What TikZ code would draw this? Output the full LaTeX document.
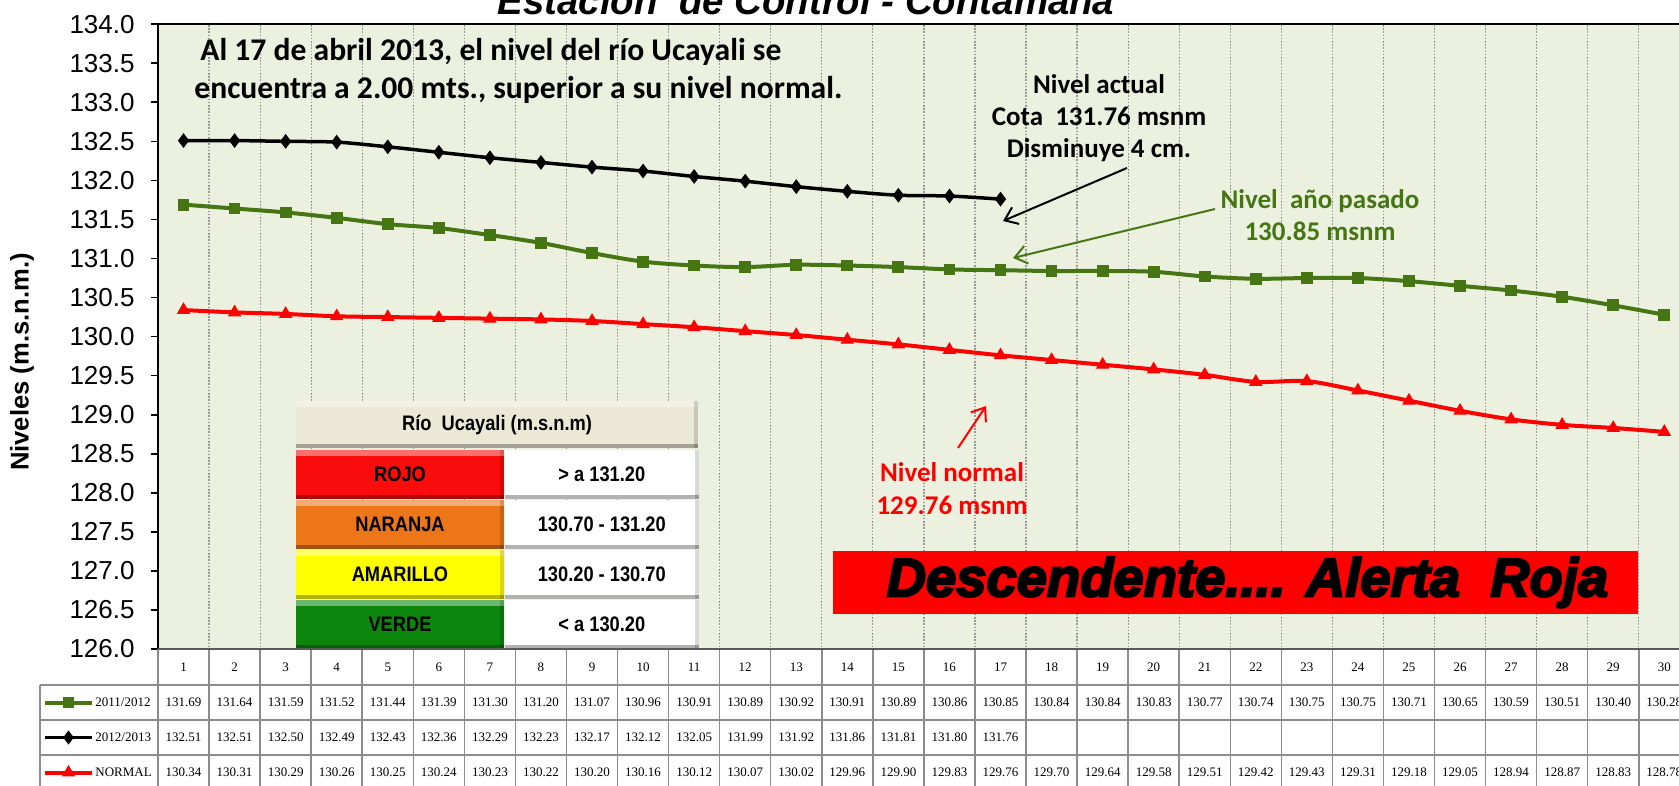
\documentclass[tikz,border=0pt]{standalone}
\usepackage{fontspec}
\usetikzlibrary{arrows.meta,plotmarks,positioning}
\setmainfont{Liberation Sans}
\newfontfamily\calfont{Carlito}
\newfontfamily\timesfont{Liberation Serif}
\newfontfamily\narrowfont{Liberation Sans}[FakeStretch=0.87]
\newfontfamily\heavyfont{Liberation Sans Bold Italic}[FakeBold=4]
\definecolor{plotbg}{RGB}{235,241,222}
\definecolor{pastgreen}{RGB}{70,118,20}
\definecolor{alarmred}{RGB}{255,0,0}
\definecolor{gridgray}{RGB}{150,150,150}
\definecolor{cellgray}{RGB}{140,140,140}
\definecolor{rojo}{RGB}{250,12,12}
\definecolor{naranja}{RGB}{236,118,24}
\definecolor{amarillo}{RGB}{255,255,0}
\definecolor{verde}{RGB}{12,134,12}
\definecolor{beige}{RGB}{236,232,214}
\def\pastvals{131.69,131.64,131.59,131.52,131.44,131.39,131.30,131.20,131.07,130.96,130.91,130.89,130.92,130.91,130.89,130.86,130.85,130.84,130.84,130.83,130.77,130.74,130.75,130.75,130.71,130.65,130.59,130.51,130.40,130.28}
\def\nowvals{132.51,132.51,132.50,132.49,132.43,132.36,132.29,132.23,132.17,132.12,132.05,131.99,131.92,131.86,131.81,131.80,131.76}
\def\normvals{130.34,130.31,130.29,130.26,130.25,130.24,130.23,130.22,130.20,130.16,130.12,130.07,130.02,129.96,129.90,129.83,129.76,129.70,129.64,129.58,129.51,129.42,129.43,129.31,129.18,129.05,128.94,128.87,128.83,128.78}
\begin{document}
\begin{tikzpicture}[x=0.5pt,y=-0.5pt,
		ticklabel/.style={anchor=east,inner sep=0pt,font=\fontsize{13}{15}\selectfont},
		cell/.style={inner sep=0pt,font=\timesfont\fontsize{6.5}{7.8}\selectfont},
		cellline/.style={draw=cellgray,line width=0.75pt},
		gridline/.style={draw=gridgray,line width=0.6pt,dash pattern=on 0.8pt off 0.8pt},
		pastline/.style={draw=pastgreen,line width=2pt},
		nowline/.style={draw=black,line width=1.75pt},
		normline/.style={draw=alarmred,line width=2pt},
		callout/.style={anchor=base,align=center,inner sep=0pt,font=\calfont\bfseries\fontsize{13.5}{16.2}\selectfont},
		pointer/.style={line width=1pt,-{Straight Barb[length=6pt,width=9pt]}},
		bevelcell/.style={fill=#1,minimum width=104pt,minimum height=24.65pt,inner sep=0pt,
			font=\narrowfont\bfseries\fontsize{10.5}{12}\selectfont,
			path picture={
				\fill[white,opacity=.4] (path picture bounding box.north west) rectangle ([yshift=-3pt]path picture bounding box.north east);
				\fill[black,opacity=.3] (path picture bounding box.south west) rectangle ([yshift=2pt]path picture bounding box.south east);
				\fill[black,opacity=.15] ([xshift=-2pt]path picture bounding box.south east) rectangle (path picture bounding box.north east);
			}},
		valuecell/.style={bevelcell=white,minimum width=97pt}]
	\useasboundingbox (0,0) rectangle (1679,786);
	\fill[plotbg] (158,24) rectangle (1690,649);
	\foreach \k in {1,...,29}
		\draw[gridline] ({158+51.06*\k},25) -- ({158+51.06*\k},648);
	\draw[line width=1pt] (1690,24) -- (158,24) -- (158,649);
	\foreach \lab [count=\k from 0] in {126.0,126.5,127.0,127.5,128.0,128.5,129.0,129.5,130.0,130.5,131.0,131.5,132.0,132.5,133.0,133.5,134.0}{
		\draw[line width=0.8pt] (151,{649-39.05*\k}) -- (158,{649-39.05*\k});
		\node[ticklabel] (t\k) at (135,{649-39.05*\k}) {\lab};
	}
	\node[rotate=90,font=\bfseries\fontsize{12.8}{15}\selectfont] (ytitle) at (22,362) {Niveles (m.s.n.m.)};
	\node[anchor=base,font=\bfseries\itshape\fontsize{19.2}{23}\selectfont] (titulo) at (806,15) {Estación\ \ de Control - Contamana};
	\node[anchor=base west,align=left,inner sep=0pt,font=\calfont\bfseries\fontsize{15.8}{19.15}\selectfont] (nota) at (194,99)
		{\hspace*{3pt}Al 17 de abril 2013, el nivel del río Ucayali se\\encuentra a 2.00 mts., superior a su nivel normal.};
	\begin{scope}[shift={(132.47,649)},x=25.53pt,y=39.05pt,yshift=-4920.3pt]
		\draw[pastline] plot[smooth,tension=.5,mark=square*,mark size=2.7pt,mark options={solid,fill=pastgreen,draw=pastgreen,line width=0.5pt}]
			coordinates {(1,131.69) (2,131.64) (3,131.59) (4,131.52) (5,131.44) (6,131.39) (7,131.30) (8,131.20) (9,131.07) (10,130.96) (11,130.91) (12,130.89) (13,130.92) (14,130.91) (15,130.89) (16,130.86) (17,130.85) (18,130.84) (19,130.84) (20,130.83) (21,130.77) (22,130.74) (23,130.75) (24,130.75) (25,130.71) (26,130.65) (27,130.59) (28,130.51) (29,130.40) (30,130.28)};
		\draw[nowline] plot[smooth,tension=.5,mark=diamond*,mark size=3.3pt,mark options={solid,fill=black,draw=black,line width=0.5pt}]
			coordinates {(1,132.51) (2,132.51) (3,132.50) (4,132.49) (5,132.43) (6,132.36) (7,132.29) (8,132.23) (9,132.17) (10,132.12) (11,132.05) (12,131.99) (13,131.92) (14,131.86) (15,131.81) (16,131.80) (17,131.76)};
		\draw[normline] plot[smooth,tension=.5,mark=triangle*,mark size=3.4pt,mark options={solid,fill=alarmred,draw=alarmred,line width=0.5pt}]
			coordinates {(1,130.34) (2,130.31) (3,130.29) (4,130.26) (5,130.25) (6,130.24) (7,130.23) (8,130.22) (9,130.20) (10,130.16) (11,130.12) (12,130.07) (13,130.02) (14,129.96) (15,129.90) (16,129.83) (17,129.76) (18,129.70) (19,129.64) (20,129.58) (21,129.51) (22,129.42) (23,129.43) (24,129.31) (25,129.18) (26,129.05) (27,128.94) (28,128.87) (29,128.83) (30,128.78)};
	\end{scope}
	\node[callout] (actual) at (1099,158) {Nivel actual\\Cota\ \ 131.76 msnm\\Disminuye 4 cm.};
	\node[callout,text=pastgreen] (pasado) at (1320,241) {Nivel\ \ año pasado\\130.85 msnm};
	\node[callout,text=alarmred] (normal) at (952,514) {Nivel normal\\129.76 msnm};
	\coordinate (actualfrom) at (1127,168);
	\coordinate (actualto) at (1003,221);
	\coordinate (pasadofrom) at (1215,209);
	\coordinate (pasadoto) at (1013,258);
	\coordinate (normalfrom) at (958,448);
	\coordinate (normalto) at (986,406);
	\draw[pointer,black] (actualfrom) -- (actualto);
	\draw[pointer,pastgreen] (pasadofrom) -- (pasadoto);
	\draw[pointer,alarmred] (normalfrom) -- (normalto);
	\node[bevelcell=beige,minimum width=201pt,minimum height=23.5pt] (rio) at (497,424.5) {Río\ \ Ucayali (m.s.n.m)};
	\node[bevelcell=rojo,below=0.5pt of rio.south west,anchor=north west] (rojo) {ROJO};
	\node[valuecell,right=0pt of rojo] (rojoval) {> a 131.20};
	\node[bevelcell=naranja,below=0pt of rojo] (naranja) {NARANJA};
	\node[valuecell,right=0pt of naranja] (naranjaval) {130.70 - 131.20};
	\node[bevelcell=amarillo,below=0pt of naranja] (amarillo) {AMARILLO};
	\node[valuecell,right=0pt of amarillo] (amarilloval) {130.20 - 130.70};
	\node[bevelcell=verde,below=0pt of amarillo] (verde) {VERDE};
	\node[valuecell,right=0pt of verde] (verdeval) {< a 130.20};
	\node[fill=alarmred,minimum width=402.5pt,minimum height=31.35pt,inner sep=0pt,font=\heavyfont\fontsize{27.2}{32}\selectfont] (alerta) at (1235.5,582.3) {\hspace*{12pt}Descendente.... Alerta\ \ Roja};
	\foreach \k in {0,...,30}
		\draw[cellline] ({158+51.06*\k},649) -- ({158+51.06*\k},790);
	\draw[cellline] (40,685) -- (40,790);
	\foreach \yy in {685,720,755}
		\draw[cellline] (40,\yy) -- (1700,\yy);
	\draw[draw=gray!70!black,line width=1pt] (158,649) -- (1700,649);
	\foreach \i in {1,...,30}
		\node[cell] (c\i) at ({132.47+51.06*\i},667) {\i};
	\foreach \v [count=\i] in \pastvals
		\node[cell] (p\i) at ({132.47+51.06*\i},702.5) {\v};
	\foreach \v [count=\i] in \nowvals
		\node[cell] (a\i) at ({132.47+51.06*\i},737.5) {\v};
	\foreach \v [count=\i] in \normvals
		\node[cell] (n\i) at ({132.47+51.06*\i},772.5) {\v};
	\draw[pastline] (45,702.5) -- (92,702.5);
	\path plot[mark=square*,mark size=2.4pt,mark options={fill=pastgreen,draw=pastgreen}] coordinates {(68.5,702.5)};
	\node[cell,anchor=west] (pastkey) at (95,702.5) {2011/2012};
	\draw[nowline] (45,737.5) -- (92,737.5);
	\path plot[mark=diamond*,mark size=3.2pt,mark options={fill=black}] coordinates {(68.5,737.5)};
	\node[cell,anchor=west] (nowkey) at (95,737.5) {2012/2013};
	\draw[normline] (45,772.5) -- (92,772.5);
	\path plot[mark=triangle*,mark size=3.4pt,mark options={fill=alarmred,draw=alarmred}] coordinates {(68.5,772.5)};
	\node[cell,anchor=west] (normkey) at (95,772.5) {NORMAL};
\end{tikzpicture}
\end{document}
